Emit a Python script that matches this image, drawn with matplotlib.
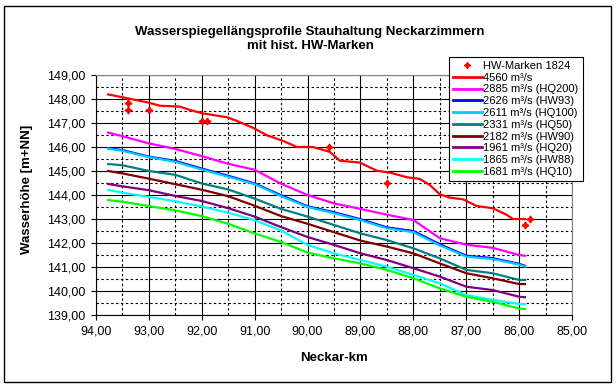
import matplotlib
matplotlib.use('Agg')
from matplotlib import pyplot as plt
from matplotlib.lines import Line2D
from matplotlib.patches import Rectangle
from matplotlib.ticker import FuncFormatter, MultipleLocator

plt.rcParams['font.family'] = ['Liberation Sans', 'DejaVu Sans']

# HW-Marken 1824
marks_km = [93.39, 93.39, 92.99, 91.99, 91.90, 89.59, 88.49, 85.80, 85.88]
marks_h = [147.85, 147.53, 147.53, 147.07, 147.10, 145.99, 144.51, 142.99, 142.75]

# 4560 m³/s (own, finer stationing)
red_km = [93.77, 93.56, 93.01, 92.79, 92.41, 92.22, 91.98, 91.52, 91.33, 91.03,
          90.77, 90.46, 90.20, 89.90, 89.58, 89.39, 89.01, 88.69, 88.44, 88.12,
          87.88, 87.69, 87.50, 87.31, 87.06, 86.80, 86.50, 86.23, 86.12, 85.89]
red_h = [148.19, 148.10, 147.85, 147.72, 147.68, 147.54, 147.40, 147.24, 147.08, 146.80,
         146.49, 146.25, 146.00, 146.00, 145.80, 145.43, 145.35, 145.01, 144.93, 144.74,
         144.67, 144.42, 144.03, 143.89, 143.82, 143.54, 143.45, 143.17, 143.00, 143.00]

# common stationing for the other profiles
km = [93.77, 93.5, 93.0, 92.5, 92.0, 91.5, 91.0, 90.5, 90.0,
      89.5, 89.0, 88.5, 88.0, 87.5, 87.0, 86.5, 86.0, 85.89]
hq200 = [146.60, 146.45, 146.15, 145.92, 145.62, 145.30, 145.05, 144.47, 144.00,
         143.65, 143.42, 143.18, 142.96, 142.20, 141.93, 141.80, 141.50, 141.47]
hw93 = [145.95, 145.87, 145.60, 145.42, 145.10, 144.80, 144.48, 143.99, 143.53,
        143.28, 142.99, 142.65, 142.50, 141.95, 141.47, 141.37, 141.13, 141.05]
hq100 = [145.93, 145.84, 145.58, 145.38, 145.06, 144.76, 144.45, 143.95, 143.50,
         143.24, 142.95, 142.61, 142.45, 141.90, 141.43, 141.33, 141.10, 141.02]
hq50 = [145.29, 145.24, 145.00, 144.84, 144.48, 144.23, 143.85, 143.42, 143.10,
        142.75, 142.40, 142.12, 141.78, 141.36, 140.88, 140.74, 140.46, 140.46]
hw90 = [145.00, 144.90, 144.68, 144.45, 144.22, 143.95, 143.55, 143.12, 142.80,
        142.45, 142.10, 141.85, 141.57, 141.15, 140.74, 140.53, 140.29, 140.29]
hq20 = [144.46, 144.36, 144.20, 143.96, 143.75, 143.45, 143.10, 142.66, 142.25,
        141.92, 141.57, 141.29, 140.95, 140.60, 140.18, 140.04, 139.76, 139.74]
hw88 = [144.21, 144.10, 143.92, 143.74, 143.52, 143.26, 142.95, 142.52, 141.92,
        141.57, 141.29, 141.01, 140.67, 140.32, 139.83, 139.63, 139.46, 139.45]
hq10 = [143.79, 143.72, 143.54, 143.36, 143.12, 142.80, 142.40, 142.04, 141.60,
        141.36, 141.15, 140.88, 140.53, 140.11, 139.76, 139.55, 139.27, 139.25]

labels = ['4560 m³/s', '2885 m³/s (HQ200)', '2626 m³/s (HW93)', '2611 m³/s (HQ100)',
          '2331 m³/s (HQ50)', '2182 m³/s (HW90)', '1961 m³/s (HQ20)',
          '1865 m³/s (HW88)', '1681 m³/s (HQ10)']
colors = ['#ff0000', '#ff00ff', '#0000ff', '#00ccff', '#008080',
          '#800000', '#800080', '#00ffff', '#00ff00']
series = [hq200, hw93, hq100, hq50, hw90, hq20, hw88, hq10]

fig = plt.figure(figsize=(6.16, 3.9), dpi=100)
ax = fig.add_axes([96 / 616, 1 - 315 / 390, 476 / 616, 240 / 390])

handles = []
h, = ax.plot(red_km, red_h, color=colors[0], lw=1.6, label=labels[0], zorder=3)
handles.append(h)
for vals, col, lab in zip(series, colors[1:], labels[1:]):
    h, = ax.plot(km, vals, color=col, lw=1.6, label=lab, zorder=3)
    handles.append(h)
ax.plot(marks_km, marks_h, ls='none', marker=(4, 1, 0), ms=5, color='#ff0000', zorder=4)
mark_handle = Line2D([], [], ls='none', marker=(4, 1, 0), ms=4.5, color='#ff0000')

ax.set_xlim(94, 85)
ax.set_ylim(139, 149)
ax.xaxis.set_major_locator(MultipleLocator(1))
ax.xaxis.set_minor_locator(MultipleLocator(0.5))
ax.yaxis.set_major_locator(MultipleLocator(1))
ax.yaxis.set_minor_locator(MultipleLocator(0.5))
comma = FuncFormatter(lambda v, _: f'{v:.2f}'.replace('.', ','))
ax.xaxis.set_major_formatter(comma)
ax.yaxis.set_major_formatter(comma)
ax.set_axisbelow(True)
ax.grid(which='major', color='black', lw=0.8, ls='-')
ax.grid(which='minor', color='black', lw=0.8, ls=(0, (2.2, 2.2)))
ax.tick_params(which='major', direction='out', length=3.5, width=0.8, color='black',
               labelsize=9, pad=4)
ax.tick_params(which='minor', length=0)
for side in ['left', 'bottom']:
    ax.spines[side].set_color('black')
    ax.spines[side].set_linewidth(0.8)
for side in ['top', 'right']:
    ax.spines[side].set_color('#808080')
    ax.spines[side].set_linewidth(0.8)

fig.text(310 / 616, 1 - 39 / 390,
         'Wasserspiegellängsprofile Stauhaltung Neckarzimmern\nmit hist. HW-Marken',
         ha='center', va='center', fontsize=9.5, fontweight='bold', linespacing=1.3)
fig.text(334 / 616, 1 - 358 / 390, 'Neckar-km', ha='center', va='center',
         fontsize=9.5, fontweight='bold')
fig.text(27 / 616, 1 - 189 / 390, 'Wasserhöhe [m+NN]', ha='center', va='center',
         rotation=90, fontsize=9.5, fontweight='bold')

leg = fig.legend([mark_handle] + handles, ['HW-Marken 1824'] + labels,
                 loc='upper left', bbox_to_anchor=(449 / 616, 1 - 57 / 390),
                 fontsize=8, frameon=True, fancybox=False, shadow=False,
                 edgecolor='black', framealpha=1, borderpad=0.35,
                 labelspacing=0.16, handlelength=2.6, handletextpad=0.15,
                 borderaxespad=0)
leg.get_frame().set_linewidth(0.8)
for ln in leg.get_lines():
    ln.set_linewidth(2.0)

fig.patches.append(Rectangle((4 / 616, 1 - 382 / 390), 607 / 616, 376 / 390,
                             transform=fig.transFigure, fill=False,
                             edgecolor='black', lw=1.0))

fig.savefig('out.png', dpi=100)
